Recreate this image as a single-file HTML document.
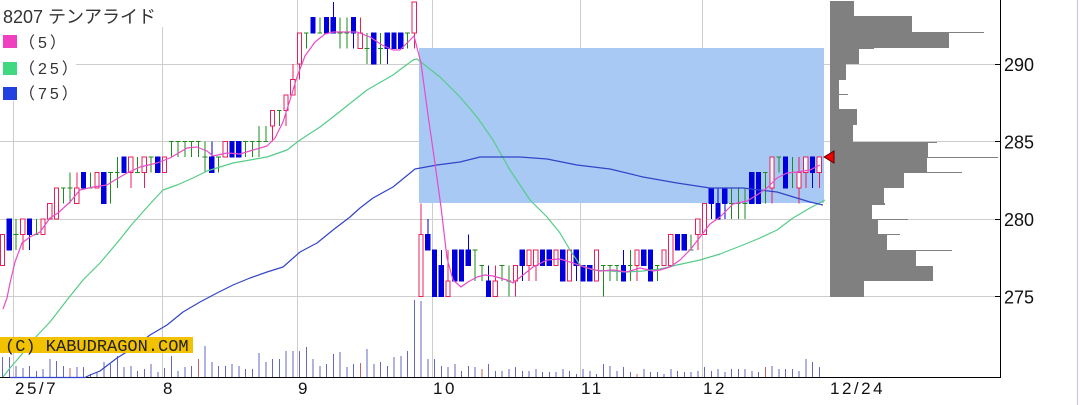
<!DOCTYPE html>
<html><head><meta charset="utf-8">
<style>
html,body{margin:0;padding:0;background:#fff;}
svg{display:block;}
.c *{vector-effect:non-scaling-stroke;}
text{font-family:"Liberation Sans","Noto Sans CJK JP",sans-serif;}
</style></head><body>
<svg width="1080" height="405" viewBox="0 0 1080 405" xmlns="http://www.w3.org/2000/svg">
<rect width="1080" height="405" fill="#fff"/>
<!-- grid -->
<g stroke="#cdcdcd" stroke-width="1" fill="none">
<path d="M0 64.5H1000M0 141.5H1000M0 219.5H1000M0 296.5H1000"/>
<path d="M13.5 0V378M162.5 0V378M297.5 0V378M432.5 0V378M580.5 0V378M702.5 0V378"/>
</g>
<!-- title/legend backgrounds -->
<rect x="0" y="0" width="165" height="27" fill="#fff"/>
<rect x="0" y="27" width="76" height="74" fill="#fff"/>
<!-- box -->
<rect x="419" y="48" width="405" height="155" fill="#a9c9f5"/>
<!-- volume -->
<g class="c" transform="matrix(6.75 0 0 1 16 0)" fill="none" stroke-width="1" shape-rendering="crispEdges">
<path stroke="#6666c4" d="M-2 378V357M-1 378V357M0 378V366M1 378V368M2 378V366M3 378V371M4 378V369M5 378V359M6 378V361M7 378V366M9 378V367M10 378V367M11 378V374M12 378V372M13 378V362M14 378V364M15 378V356M16 378V367M17 378V366M18 378V371M19 378V369M20 378V364M21 378V372M22 378V368M23 378V356M24 378V371M25 378V367M26 378V366M28 378V346M29 378V362M30 378V366M31 378V366M32 378V364M33 378V366M34 378V369M35 378V369M36 378V353M37 378V362M38 378V359M39 378V359M40 378V351M41 378V351M42 378V351M43 378V347M44 378V359M45 378V366M46 378V364M47 378V354M48 378V352M49 378V367M50 378V364M52 378V349M53 378V364M54 378V362M55 378V366M56 378V357M57 378V356M58 378V351M59 378V300M60 378V301M61 378V359M62 378V359M63 378V366M64 378V367M65 378V364M66 378V371M67 378V366M68 378V367M70 378V364M71 378V371M72 378V371M73 378V369M74 378V367M75 378V371M76 378V371M77 378V369M78 378V372M79 378V372M80 378V372M81 378V369M82 378V371M83 378V374M84 378V369M85 378V371M86 378V374M87 378V364M88 378V366M89 378V371M90 378V367M91 378V372M93 378V369M94 378V372M95 378V372M96 378V374M97 378V369M98 378V371M99 378V372M100 378V372M101 378V371M102 378V367M103 378V371M104 378V369M105 378V372M106 378V369M107 378V369M108 378V369M109 378V371M110 378V372M112 378V366M113 378V369M114 378V369M115 378V369M116 378V371M117 378V359M118 378V362M119 378V367"/>
<path stroke="#c86060" d="M8 378V368M27 378V359M51 378V363M69 378V369M92 378V374M111 378V367"/>
</g>
<!-- candles -->
<g class="c" transform="matrix(6.75 0 0 -15.5 16 4559)" stroke-width="1" shape-rendering="crispEdges">
<path fill="none" stroke="#1e8a1e" d="M0 278V280M-.35 279h.7M3 279V280M2.65 279h.7M7 281V282M6.65 282h.7M8 281V283M7.65 282h.7M11 282V283M10.65 282h.7M14 281V283M13.65 283h.7M15 282V284M14.65 283h.7M18 283V284M17.65 283h.7M20 283V284M19.65 284h.7M23 284V285M22.65 285h.7M24 284V285M23.65 285h.7M25 284V285M24.65 285h.7M26 284V285M25.65 285h.7M27 284V285M26.65 285h.7M28 283V285M27.65 284h.7M30 283V284M29.65 284h.7M34 284V285M33.65 285h.7M35 284V285M34.65 285h.7M36 284V286M35.65 285h.7M37 285V286M36.65 285h.7M39 286V287M38.65 287h.7M43 291V292M42.65 292h.7M45 292V293M44.65 292h.7M48 291V293M47.65 292h.7M49 291V293M48.65 292h.7M52 290V292M51.65 291h.7M54 290V292M53.65 291h.7M58 291V292M57.65 292h.7M68 276V278M67.65 278h.7M69 276V277M68.65 277h.7M72 276V277M71.65 277h.7M73 275V277M72.65 276h.7M87 275V277M86.65 277h.7M88 276V277M87.65 277h.7M89 276V277M88.65 277h.7M91 276V278M90.65 277h.7M95 276V277M94.65 277h.7M100 278V279M99.65 278h.7M106 280V282M105.65 281h.7M107 280V282M106.65 281h.7M108 280V282M107.65 281h.7M111 281V283M110.65 283h.7M113 283V284M112.65 284h.7M115 282V284M114.65 283h.7"/>
<path fill="none" stroke="#0000d0" d="M-1 278V280M2 278V280M10 282V283M13 281V283M16 283V284M21 283V284M29 283V285M32 284V285M33 284V285M44 292V293M46 292V293M47 292V294M50 291V293M53 290V292M55 290V292M56 291V292M57 291V292M61 278V280M62 275V278M63 275V278M65 276V278M66 276V278M67 277V279M70 275V277M75 276V278M78 277V278M79 277V278M81 276V278M83 276V278M84 276V277M85 276V277M90 276V278M93 277V278M94 276V278M98 278V279M99 278V279M103 280V282M104 280V282M105 280V282M109 281V283M110 281V283M114 282V284M118 282V284"/>
<path fill="#0000dd" stroke="#0000dd" d="M-1.3 278h.6v2h-.6zM1.7 279h.6v1h-.6zM9.7 282h.6v1h-.6zM12.7 281h.6v2h-.6zM15.7 283h.6v1h-.6zM20.7 283h.6v1h-.6zM28.7 283h.6v1h-.6zM31.7 284h.6v1h-.6zM32.7 284h.6v1h-.6zM43.7 292h.6v1h-.6zM45.7 292h.6v1h-.6zM46.7 292h.6v1h-.6zM49.7 292h.6v1h-.6zM52.7 290h.6v2h-.6zM54.7 291h.6v1h-.6zM55.7 291h.6v1h-.6zM56.7 291h.6v1h-.6zM60.7 278h.6v1h-.6zM61.7 275h.6v3h-.6zM62.7 275h.6v2h-.6zM64.7 276h.6v2h-.6zM65.7 276h.6v2h-.6zM66.7 277h.6v1h-.6zM69.7 275h.6v1h-.6zM74.7 277h.6v1h-.6zM77.7 277h.6v1h-.6zM78.7 277h.6v1h-.6zM80.7 276h.6v2h-.6zM82.7 277h.6v1h-.6zM83.7 276h.6v1h-.6zM84.7 276h.6v1h-.6zM89.7 276h.6v1h-.6zM92.7 277h.6v1h-.6zM93.7 276h.6v2h-.6zM97.7 278h.6v1h-.6zM98.7 278h.6v1h-.6zM102.7 281h.6v1h-.6zM103.7 280h.6v1h-.6zM104.7 281h.6v1h-.6zM108.7 281h.6v2h-.6zM109.7 281h.6v2h-.6zM113.7 282h.6v2h-.6zM117.7 283h.6v1h-.6z"/>
<path fill="none" stroke="#e8205a" d="M-2 277V279M1 278V280M4 279V280M5 280V281M6 280V282M9 281V283M12 282V283M17 282V284M19 282V284M22 283V284M31 284V285M38 285V287M40 286V288M41 288V290M42 289V292M51 291V293M59 291V294M60 275V281M64 275V278M71 275V277M74 275V277M76 276V278M77 276V278M80 277V278M82 276V278M86 276V278M92 276V278M96 277V278M97 277V279M101 278V280M102 279V281M112 281V284M116 281V284M117 282V284M119 282V284"/>
<path fill="#fff" stroke="#e8205a" d="M-2.3 277h.6v2h-.6zM.7 279h.6v1h-.6zM3.7 279h.6v1h-.6zM4.7 280h.6v1h-.6zM5.7 280h.6v2h-.6zM8.7 281h.6v1h-.6zM11.7 282h.6v1h-.6zM16.7 283h.6v1h-.6zM18.7 283h.6v1h-.6zM21.7 283h.6v1h-.6zM30.7 284h.6v1h-.6zM37.7 286h.6v1h-.6zM39.7 287h.6v1h-.6zM40.7 288h.6v1h-.6zM41.7 290h.6v2h-.6zM50.7 291h.6v1h-.6zM58.7 292h.6v2h-.6zM59.7 275h.6v4h-.6zM63.7 275h.6v1h-.6zM70.7 275h.6v1h-.6zM73.7 276h.6v1h-.6zM75.7 277h.6v1h-.6zM76.7 277h.6v1h-.6zM79.7 277h.6v1h-.6zM81.7 276h.6v2h-.6zM85.7 276h.6v2h-.6zM91.7 277h.6v1h-.6zM95.7 277h.6v1h-.6zM96.7 277h.6v2h-.6zM100.7 279h.6v1h-.6zM101.7 279h.6v2h-.6zM111.7 282h.6v2h-.6zM115.7 282h.6v1h-.6zM116.7 283h.6v1h-.6zM118.7 283h.6v1h-.6z"/>
</g>
<!-- axes -->
<path d="M0 377.5H1000.5M1000.5 0V378" stroke="#000" stroke-width="1" fill="none"/>
<!-- moving averages -->
<g fill="none" stroke-width="1.2" stroke-linejoin="round">
<polyline stroke="#55cc88" points="3,377 10,368 17,360 27,348 33,340 50,322 67,300 83,280 100,263 117,243 133,223 150,204 163,190 177,185 193,178 207,171 233,163 267,157 287,150 300,140 320,127 333,117 367,90 393,75 413,60 417,59 440,77 460,97 477,117 493,140 510,170 530,200 547,217 560,233 570,250 580,265 593,270 610,271 627,272 643,271 660,269 677,265 700,260 720,254 743,245 760,238 777,230 793,218 810,208 825,200"/>
<polyline stroke="#3344c8" points="10,377.5 85,377.5 90,375 100,371 117,358 133,348 150,335 167,325 183,312 200,302 217,293 233,285 250,278 267,272 283,267 300,252 317,243 333,230 350,217 360,208 373,198 393,187 415,169 437,165 460,162 480,157 520,157 547,159 577,165 610,169 643,177 677,183 710,188 743,188 777,192 810,202 823,205"/>
<polyline stroke="#e84cc8" points="3,309 7,298 10,283 15,262 22,243 30,237 40,232 50,218 58,213 70,202 80,190 93,187 107,185 115,180 127,173 140,167 157,163 170,158 187,148 197,147 207,151 213,156 227,153 240,154 253,150 267,146 275,138 283,122 290,100 297,77 305,56 315,42 325,34 333,32 357,32 370,37 382,45 393,50 400,50 408,42 414,36 421,63 428,115 434.5,160 441,207 447,258 453,280 461,287 468,282 477,277 485,275 493,276 507,280 513,283 523,275 533,267 547,260 560,259 573,263 587,268 600,271 613,270 627,272 640,268 653,271 660,270 670,267 680,260 690,250 700,237 710,224 720,217 733,204 747,201 757,195 767,188 777,178 787,173 797,172 810,170 820,165"/>
</g>
<!-- volume profile -->
<polygon fill="#808080" points="830,1 854,1 854,16 912,16 912,32 949,32 949,48 859,48 859,64 846,64 846,80 839,80 839,109 857,109 857,125 853,125 853,142 928,142 928,157 927,157 927,172 904,172 904,188 884,188 884,203 885,203 885,205 872,205 872,219 878,219 878,234 887,234 887,250 916,250 916,266 933,266 933,281 864,281 864,297 830,297"/>
<path stroke="#808080" stroke-width="1" fill="none" d="M912 32.5H984M859 48.5H874M839 94.5H848M928 142.5H937M927 157.5H998M904 172.5H962M872 219.5H908M878 234.5H900M887 250.5H952"/>
<!-- y ticks -->
<path d="M995 64.5H1000M995 141.5H1000M995 219.5H1000M995 296.5H1000" stroke="#000" stroke-width="1"/>
<!-- current price marker -->
<polygon points="824,157 834,151 834,163" fill="#ee0000" stroke="#550000" stroke-width="1"/>
<!-- right light line -->
<path d="M1077.5 0V405" stroke="#c4c4ee" stroke-width="1"/>
<!-- title & legend -->
<text x="3" y="23" font-size="18" fill="#333">8207 テンアライド</text>
<rect x="3" y="35" width="14" height="13" fill="#f040c0"/>
<rect x="3" y="62" width="14" height="13" fill="#40d880"/>
<rect x="3" y="87" width="14" height="13" fill="#2040e0"/>
<text x="19" y="48" font-size="16" letter-spacing="3" fill="#333">（5）</text>
<text x="19" y="74" font-size="16" letter-spacing="3" fill="#333">（25）</text>
<text x="19" y="99" font-size="16" letter-spacing="3" fill="#333">（75）</text>
<!-- y labels -->
<g font-size="18" fill="#111">
<text x="1004" y="71">290</text>
<text x="1004" y="148.5">285</text>
<text x="1004" y="226">280</text>
<text x="1004" y="303.5">275</text>
</g>
<!-- x labels -->
<g font-size="17" fill="#111" letter-spacing="2.5">
<text x="15" y="394">25/7</text>
<text x="163" y="394">8</text>
<text x="298" y="394">9</text>
<text x="433" y="394">10</text>
<text x="581" y="394">11</text>
<text x="703" y="394">12</text>
<text x="830" y="394">12/24</text>
</g>
<!-- copyright -->
<rect x="0" y="337" width="193" height="16" fill="#f2c200"/>
<text x="5" y="351" font-size="17" fill="#222" style="font-family:'Liberation Mono',monospace">(C) KABUDRAGON.COM</text>
</svg>
</body></html>
